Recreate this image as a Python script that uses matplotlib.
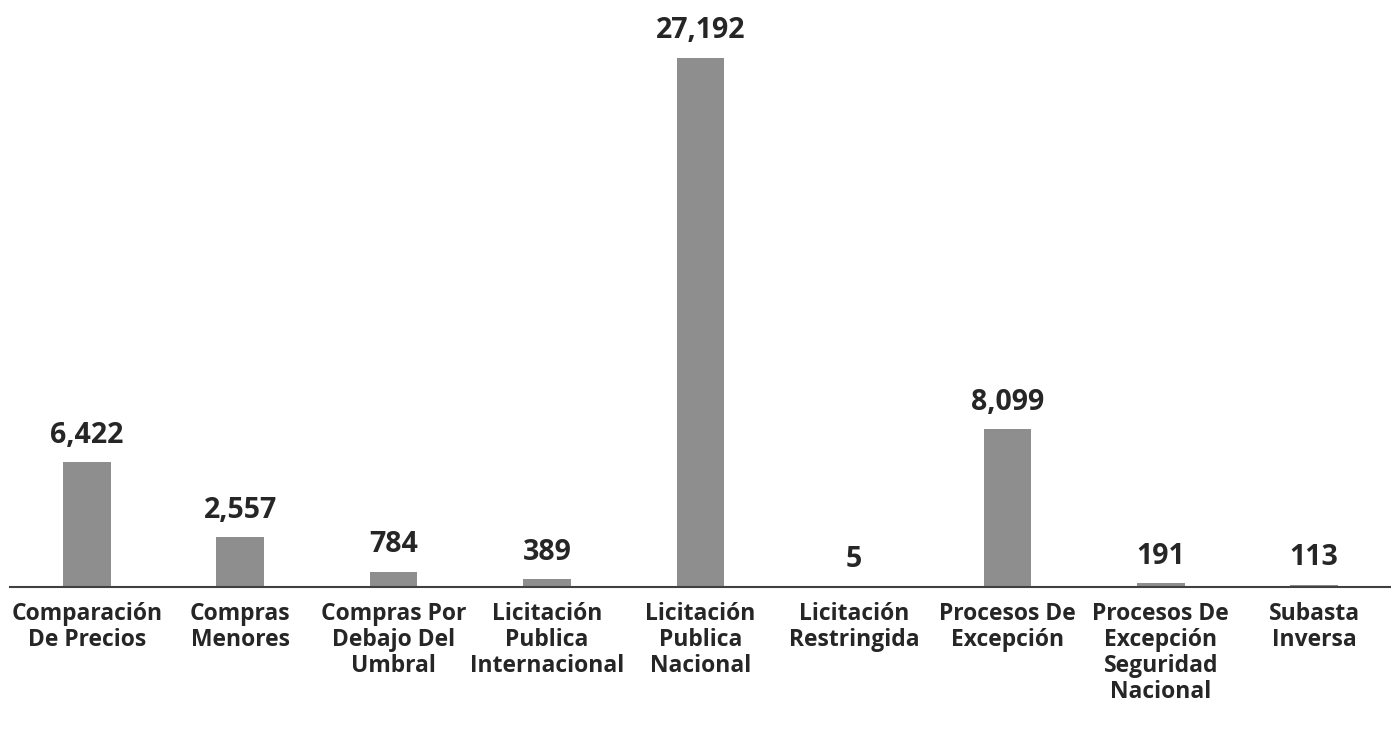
import numpy as np
import matplotlib
matplotlib.use("Agg")
import matplotlib.pyplot as plt

categories = [
    "Comparación\nDe Precios",
    "Compras\nMenores",
    "Compras Por\nDebajo Del\nUmbral",
    "Licitación\nPublica\nInternacional",
    "Licitación\nPublica\nNacional",
    "Licitación\nRestringida",
    "Procesos De\nExcepción",
    "Procesos De\nExcepción\nSeguridad\nNacional",
    "Subasta\nInversa",
]
values = [6422, 2557, 784, 389, 27192, 5, 8099, 191, 113]

plt.rcParams['font.family'] = ['Open Sans', 'DejaVu Sans']

fig = plt.figure(figsize=(13.91, 7.30), dpi=100)
ax = fig.add_axes([10 / 1391, (730 - 587) / 730, 1 - 10 / 1391, 587 / 730])

x = np.arange(len(values))
bars = ax.bar(x, values, width=0.31, color='#8e8e8e', edgecolor='none')

# value labels above the bars
for rect, v in zip(bars, values):
    ax.annotate(f"{v:,}", (rect.get_x() + rect.get_width() / 2, rect.get_height()),
                xytext=(0, 9), textcoords='offset points',
                ha='center', va='bottom', fontsize=20.5, fontweight='bold',
                color='#262626')

ax.set_xlim(-0.5, len(values) - 0.5)
ax.set_ylim(0, 27192 * 587 / 529)

ax.set_xticks(x)
ax.set_xticklabels(categories, fontsize=16.5, fontweight='bold', color='#262626',
                   linespacing=1.1, va='top')
ax.tick_params(axis='x', length=0, pad=11)
ax.set_yticks([])

for side in ['top', 'left', 'right']:
    ax.spines[side].set_visible(False)
ax.spines['bottom'].set_color('#404040')
ax.spines['bottom'].set_linewidth(1.5)

fig.savefig('out.png', dpi=100)
